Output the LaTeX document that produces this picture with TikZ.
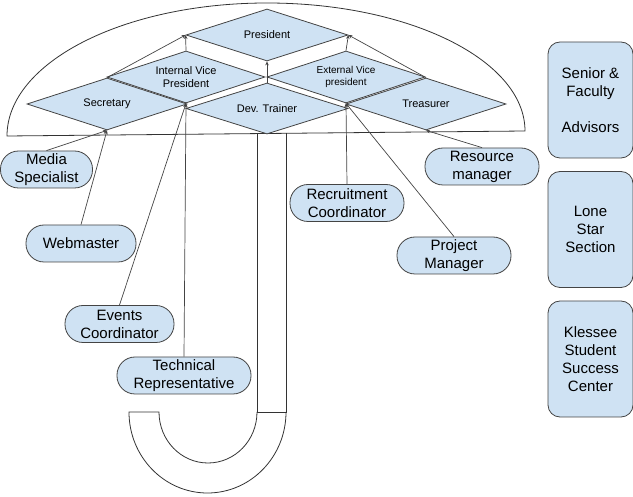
\documentclass[tikz,border=0pt]{standalone}
\usepackage{fontspec}
\setmainfont{Liberation Sans}
\usetikzlibrary{shapes.geometric,arrows.meta}
\definecolor{fillblue}{HTML}{CFE2F3}
\definecolor{edgegray}{HTML}{444444}
\begin{document}
\begin{tikzpicture}[x=1pt,y=-1pt,
  dia/.style={diamond,aspect=3,draw=edgegray,fill=fillblue,line width=0.8pt,inner sep=0pt,
    minimum width=160pt,minimum height=52pt,align=center,font=\fontsize{11}{13}\selectfont},
  pill/.style={rectangle,rounded corners=18pt,draw=edgegray,fill=fillblue,line width=0.8pt,
    inner sep=0pt,minimum height=37pt,align=center,font=\fontsize{15}{18}\selectfont},
  side/.style={rectangle,rounded corners=12pt,draw=edgegray,fill=fillblue,line width=0.8pt,
    inner sep=0pt,minimum width=85pt,minimum height=116pt,align=center,font=\fontsize{15}{18}\selectfont},
  link/.style={draw=edgegray,line width=0.7pt,-{Stealth[length=4pt,width=3.5pt]}},
  outline/.style={draw=black!80,line width=0.8pt}]
\useasboundingbox (0,0) rectangle (633,497);
% canopy
\draw[outline] (7,136) arc[start angle=180,end angle=270,x radius=260,y radius=133]
  arc[start angle=270,end angle=360,x radius=258,y radius=128] -- cycle;
% shaft and hook
\draw[outline] (257,133.6) -- (257,412) -- (286,412) -- (286,133.2);
\draw[outline] (286,412) arc[start angle=0,end angle=180,x radius=78.5,y radius=81]
  -- (159,412) arc[start angle=180,end angle=0,x radius=49,y radius=51];
% diamonds
\node[dia,minimum width=162pt] (pres) at (267,35) {President};
\node[dia,minimum width=158pt] (ivp) at (186,77) {Internal Vice\\President};
\node[dia,minimum width=158pt,font=\fontsize{10}{12}\selectfont] (evp) at (346,77) {External Vice\\president};
\node[dia] (sec) at (107,104) {Secretary};
\node[dia,minimum width=162pt,minimum height=51pt] (dev) at (267,108.5) {Dev. Trainer};
\node[dia] (tre) at (426,104) {Treasurer};
% member boxes
\node[pill,minimum width=92pt] (media) at (46.5,169.5) {Media\\Specialist};
\node[pill,minimum width=110pt] (web) at (81,243.5) {Webmaster};
\node[pill,minimum width=109pt] (events) at (119.5,324) {Events\\Coordinator};
\node[pill,minimum width=134pt] (tech) at (184,375.5) {Technical\\Representative};
\node[pill,minimum width=114pt] (recruit) at (347,203) {Recruitment\\Coordinator};
\node[pill,minimum width=114pt] (project) at (454,255.5) {Project\\Manager};
\node[pill,minimum width=114pt] (resource) at (482,166.5) {Resource\\manager};
% side boxes
\node[side] (senior) at (590.5,100) {Senior \&\\Faculty\\[18pt]Advisors};
\node[side] (lone) at (590.5,229.5) {Lone\\Star\\Section};
\node[side] (klessee) at (590.5,359) {Klessee\\Student\\Success\\Center};
% connectors
\draw[link] (media.north) -- (sec.south);
\draw[link] (web.north) -- (sec.south);
\draw[link] (events.north) -- (ivp.south);
\draw[link] (tech.north) -- (ivp.south);
\draw[link] (recruit.north) -- (evp.south);
\draw[link] (project.north) -- (evp.south);
\draw[link] (resource.north) -- (tre.south);
\draw[link] (sec.north) -- (pres.west);
\draw[link] (ivp.north) -- (pres.west);
\draw[link] (dev.north) -- (pres.south);
\draw[link] (evp.north) -- (pres.east);
\draw[link] (tre.north) -- (pres.east);
\end{tikzpicture}
\end{document}
